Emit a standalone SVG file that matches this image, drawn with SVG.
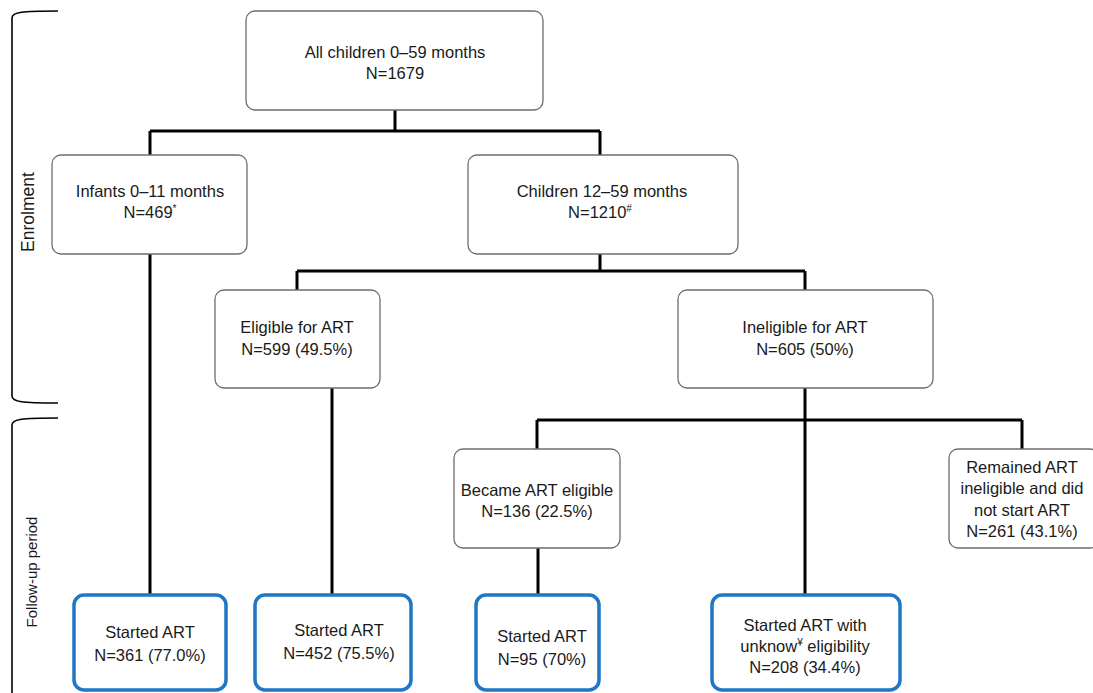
<svg xmlns="http://www.w3.org/2000/svg" width="1093" height="693" viewBox="0 0 1093 693">
<style>
text{font-family:"Liberation Sans",Arial,sans-serif;font-size:16.5px;fill:#1a1a1a;text-anchor:middle}
.box{fill:#fff;stroke:#6e6e6e;stroke-width:1.3}
.out{fill:#fff;stroke:#1f77c6;stroke-width:3.5}
.conn{fill:none;stroke:#000;stroke-width:3}
.brk{fill:none;stroke:#000;stroke-width:1.6}
.sup{font-size:10px}
</style>
<rect width="1093" height="693" fill="#fff"/>
<g id="brackets">
<path class="brk" d="M58,11 C22,11 12,12 12,18 V396 C12,402 22,403 58,403"/>
<path class="brk" d="M58,418 C22,418 12,419 12,425 V693"/>
<text transform="translate(34,212) rotate(-90)" style="font-size:17.5px">Enrolment</text>
<text transform="translate(37,572) rotate(-90)" style="font-size:15px">Follow-up period</text>
</g>
<g id="connectors">
<path class="conn" d="M395,110 V131 M150,131 H600 M150,131 V155 M600,131 V155"/>
<path class="conn" d="M150,254 V595"/>
<path class="conn" d="M600,254 V271 M297,271 H805 M297,271 V290 M805,271 V290"/>
<path class="conn" d="M332,388 V595"/>
<path class="conn" d="M805,388 V595 M537,420 H1022 M537,420 V449 M1022,420 V449"/>
<path class="conn" d="M538,548 V595"/>
</g>
<g id="all">
<rect class="box" x="246" y="11" width="297" height="99" rx="9"/>
<text x="395" y="58">All children 0–59 months</text>
<text x="395" y="79">N=1679</text>
</g>
<g id="infants">
<rect class="box" x="52" y="155" width="195" height="99" rx="9"/>
<text x="150" y="197">Infants 0–11 months</text>
<text x="150" y="218">N=469<tspan class="sup" dy="-6">*</tspan></text>
</g>
<g id="children">
<rect class="box" x="468" y="155" width="270" height="99" rx="9"/>
<text x="602" y="197">Children 12–59 months</text>
<text x="600" y="218">N=1210<tspan class="sup" dy="-6">#</tspan></text>
</g>
<g id="eligible">
<rect class="box" x="215" y="290" width="165" height="98" rx="9"/>
<text x="297" y="333">Eligible for ART</text>
<text x="297" y="355">N=599 (49.5%)</text>
</g>
<g id="ineligible">
<rect class="box" x="678" y="290" width="255" height="98" rx="9"/>
<text x="805" y="333">Ineligible for ART</text>
<text x="805" y="355">N=605 (50%)</text>
</g>
<g id="became">
<rect class="box" x="454" y="449" width="166" height="99" rx="9"/>
<text x="537" y="496">Became ART eligible</text>
<text x="537" y="517">N=136 (22.5%)</text>
</g>
<g id="remained">
<rect class="box" x="949" y="449" width="150" height="99" rx="9"/>
<text x="1022" y="473">Remained ART</text>
<text x="1022" y="494">ineligible and did</text>
<text x="1022" y="516">not start ART</text>
<text x="1022" y="537">N=261 (43.1%)</text>
</g>
<g id="started1">
<rect class="out" x="74" y="595" width="152" height="95" rx="10"/>
<text x="150" y="638">Started ART</text>
<text x="150" y="661">N=361 (77.0%)</text>
</g>
<g id="started2">
<rect class="out" x="255" y="595" width="156" height="95" rx="10"/>
<text x="339" y="636">Started ART</text>
<text x="339" y="659">N=452 (75.5%)</text>
</g>
<g id="started3">
<rect class="out" x="476" y="595" width="123" height="95" rx="10"/>
<text x="542" y="642">Started ART</text>
<text x="542" y="665">N=95 (70%)</text>
</g>
<g id="started4">
<rect class="out" x="712" y="595" width="188" height="95" rx="10"/>
<text x="805" y="631">Started ART with</text>
<text x="805" y="652">unknow<tspan class="sup" dy="-6">¥</tspan><tspan dy="6"> eligibility</tspan></text>
<text x="805" y="673">N=208 (34.4%)</text>
</g>
</svg>
